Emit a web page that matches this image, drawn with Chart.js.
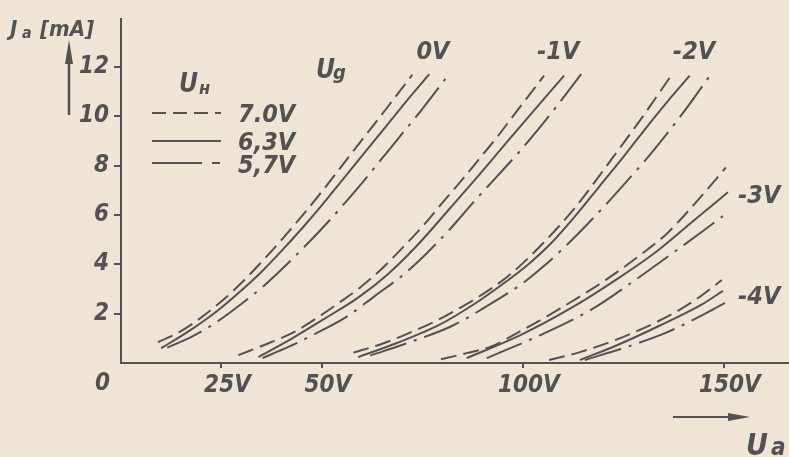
<!DOCTYPE html>
<html>
<head>
<meta charset="utf-8">
<script src="https://cdn.jsdelivr.net/npm/chart.js@4.4.0/dist/chart.umd.min.js"></script>
<style>
  html, body { margin: 0; padding: 0; background: #eee5d7; }
  #wrap { width: 789px; height: 457px; }
</style>
</head>
<body>
<div id="wrap"><canvas id="kennlinien" width="789" height="457"></canvas></div>
<script>
// Ia = f(Ua) for grid voltages 0..-4V, three heater voltages each
// points are [Ua (V), Ia (mA)]
const heaterLabels = ['7.0V', '6,3V', '5,7V'];
const gridLabels = ['0V', '-1V', '-2V', '-3V', '-4V'];
const xTickValues = [25, 50, 100, 150];
const yTickValues = [2, 4, 6, 8, 10, 12];

// Ug = 0V
const ug0_70 = [[9.2,0.84],[15,1.3],[20,1.85],[25,2.5],[30,3.25],[35,4.1],[40,5.0],[45,5.95],[50,6.95],[55,8.0],[60,9.05],[66,10.3],[72.5,11.68]];
const ug0_63 = [[10,0.6],[16.4,1.24],[24,2.12],[30,2.95],[35,3.7],[40,4.55],[45,5.45],[50,6.4],[55,7.4],[60,8.4],[66,9.6],[72,10.8],[76.7,11.7]];
const ug0_57 = [[11.5,0.62],[18,1.1],[24,1.68],[30,2.4],[35,3.05],[40,3.8],[45,4.6],[50,5.45],[55,6.35],[60,7.3],[65,8.3],[70,9.3],[75,10.3],[81.5,11.68]];
// Ug = -1V
const ug1_70 = [[29.2,0.32],[36.7,0.8],[42.9,1.24],[48.9,1.84],[54.6,2.48],[59.8,3.1],[65.1,3.85],[71.1,4.85],[75.6,5.64],[80.1,6.52],[85,7.45],[89.8,8.4],[93.8,9.2],[97.3,9.95],[105.25,11.64]];
const ug1_63 = [[34.2,0.24],[42.6,1.0],[50.7,1.8],[58.9,2.64],[66.4,3.6],[73.6,4.75],[82.3,6.35],[89,7.6],[96.8,9.1],[103.9,10.45],[110.25,11.64]];
const ug1_57 = [[35.2,0.2],[41.5,0.64],[49,1.24],[56.2,1.88],[63.2,2.72],[70.7,3.64],[76.4,4.5],[82,5.45],[87.6,6.5],[93.5,7.55],[99.6,8.65],[108.4,10.4],[114.5,11.7]];
// Ug = -2V
const ug2_70 = [[57.8,0.42],[65,0.78],[71.5,1.2],[80.1,1.85],[92,3.0],[97.3,3.65],[105,4.85],[113,6.3],[122.25,8.3],[129,9.8],[136.5,11.55]];
const ug2_63 = [[59,0.24],[68.5,0.8],[78.9,1.52],[88,2.4],[95,3.2],[101,3.95],[107,4.85],[113,5.95],[119,7.15],[125,8.35],[131,9.6],[136,10.6],[141.5,11.64]];
const ug2_57 = [[62,0.3],[72,0.85],[82.6,1.52],[91,2.3],[100,3.24],[105,3.9],[109.75,4.6],[115,5.45],[120.25,6.35],[125.5,7.3],[131,8.32],[136.6,9.45],[141.5,10.5],[146.5,11.64]];
// Ug = -3V
const ug3_70 = [[79.6,0.15],[86,0.4],[92.3,0.68],[97.5,1.12],[109.2,2.2],[120.9,3.4],[131,4.6],[135.8,5.24],[143,6.5],[150.5,7.92]];
const ug3_63 = [[86,0.2],[99.25,1.12],[111.7,2.2],[123.4,3.4],[133.5,4.55],[142,5.7],[151,6.92]];
const ug3_57 = [[91,0.2],[104.2,1.12],[117.4,2.2],[127.4,3.3],[138.5,4.6],[144.8,5.35],[149.75,5.95]];
// Ug = -4V
const ug4_70 = [[106.5,0.12],[114.2,0.44],[125.9,1.12],[137.3,2.0],[143.3,2.6],[149.5,3.36]];
const ug4_63 = [[114.2,0.12],[123.4,0.72],[134.1,1.52],[144,2.32],[149.75,2.92]];
const ug4_57 = [[115.4,0.12],[124.9,0.6],[135.8,1.24],[145.8,2.04],[150.25,2.44]];

const curveGroups = [
  [ug0_70, ug0_63, ug0_57],
  [ug1_70, ug1_63, ug1_57],
  [ug2_70, ug2_63, ug2_57],
  [ug3_70, ug3_63, ug3_57],
  [ug4_70, ug4_63, ug4_57]
];

const INK = '#525252';
const PAPER = '#eee5d7';
const FONT = "'Liberation Sans Narrow', 'DejaVu Sans Condensed', 'DejaVu Sans', sans-serif";
const dashStyles = [[16, 7], [], [38, 8, 3, 8]];

let datasets = [];
curveGroups.forEach((group, gi) => {
  group.forEach((pts, hi) => {
    datasets.push({
      label: gridLabels[gi] + ' / ' + heaterLabels[hi],
      data: pts.map(p => ({ x: p[0], y: p[1] })),
      borderColor: INK,
      borderWidth: 2,
      borderDash: dashStyles[hi],
      borderCapStyle: 'butt',
      pointRadius: 0,
      fill: false,
      cubicInterpolationMode: 'monotone'
    });
  });
});

function txt(ctx, s, x, y, size, align) {
  ctx.font = 'italic bold ' + size + 'px ' + FONT;
  ctx.textAlign = align || 'left';
  ctx.textBaseline = 'alphabetic';
  ctx.fillText(s, x, y);
}

// paper background
const paperPlugin = {
  id: 'paper',
  beforeDraw(chart) {
    const ctx = chart.ctx;
    ctx.save();
    ctx.fillStyle = PAPER;
    ctx.fillRect(0, 0, chart.width, chart.height);
    ctx.restore();
  }
};

// axis titles, arrows, legend, group labels
const decorPlugin = {
  id: 'decor',
  afterDraw(chart) {
    const ctx = chart.ctx;
    const xs = chart.scales.x, ys = chart.scales.y;
    ctx.save();
    ctx.fillStyle = INK;
    ctx.strokeStyle = INK;

    // y title  Ja [mA]
    txt(ctx, 'J', 10, 36, 22);
    txt(ctx, 'a', 22, 38, 16);
    txt(ctx, '[mA]', 40, 36, 22);
    // y arrow
    ctx.lineWidth = 2.5;
    ctx.beginPath(); ctx.moveTo(69, 115); ctx.lineTo(69, 58); ctx.stroke();
    ctx.beginPath(); ctx.moveTo(69, 40); ctx.lineTo(73, 64); ctx.lineTo(65, 64); ctx.closePath(); ctx.fill();

    // x title  Ua + arrow
    ctx.lineWidth = 2;
    ctx.beginPath(); ctx.moveTo(673, 417); ctx.lineTo(735, 417); ctx.stroke();
    ctx.beginPath(); ctx.moveTo(750, 417); ctx.lineTo(728, 413); ctx.lineTo(728, 421); ctx.closePath(); ctx.fill();
    txt(ctx, 'U', 746, 455, 30);
    txt(ctx, 'a', 771, 455, 24);

    // origin
    txt(ctx, '0', 95, 390, 24);

    // heater legend
    txt(ctx, 'U', 179, 92, 26);
    txt(ctx, 'н', 199, 94, 18);
    const legendY = [113, 141, 163];
    const legendDash = [[14, 7], [], [50, 10, 8, 10]];
    ctx.lineWidth = 2;
    legendY.forEach((ly, i) => {
      ctx.setLineDash(legendDash[i]);
      ctx.beginPath(); ctx.moveTo(152, ly); ctx.lineTo(221, ly); ctx.stroke();
    });
    ctx.setLineDash([]);
    txt(ctx, heaterLabels[0], 238, 122, 25);
    txt(ctx, heaterLabels[1], 238, 150, 25);
    txt(ctx, heaterLabels[2], 238, 173, 25);

    // grid voltage labels
    txt(ctx, 'U', 316, 78, 26);
    txt(ctx, 'g', 333, 79, 20);
    const labelAt = [[73.5, 12.3], [103.5, 12.3], [137.3, 12.3], [153.5, 6.5], [153.5, 2.4]];
    gridLabels.forEach((g, i) => {
      txt(ctx, g, xs.getPixelForValue(labelAt[i][0]), ys.getPixelForValue(labelAt[i][1]), 25);
    });
    ctx.restore();
  }
};

const tickFont = { family: FONT, size: 24, weight: 'bold', style: 'italic' };

const ctx = document.getElementById('kennlinien').getContext('2d');
const chart = new Chart(ctx, {
  type: 'line',
  data: { datasets: datasets },
  options: {
    responsive: false,
    devicePixelRatio: 1,
    animation: false,
    layout: { padding: { top: 15, right: 0, left: 0, bottom: 0 } },
    plugins: { legend: { display: false }, tooltip: { enabled: false } },
    scales: {
      x: {
        type: 'linear',
        min: 0,
        max: 166.2,
        afterFit: s => { s.height = 94; },
        afterBuildTicks: s => { s.ticks = xTickValues.map(v => ({ value: v })); },
        grid: { display: true, drawOnChartArea: false, drawTicks: true, tickLength: 5, color: INK, lineWidth: 2 },
        border: { display: true, color: INK, width: 2 },
        ticks: {
          color: INK, font: tickFont, padding: 3, maxRotation: 0, autoSkip: false,
          labelOffset: 6,
          callback: v => v + 'V'
        }
      },
      y: {
        type: 'linear',
        min: 0,
        max: 13.92,
        afterFit: s => { s.width = 121; },
        afterBuildTicks: s => { s.ticks = yTickValues.map(v => ({ value: v })); },
        grid: { display: true, drawOnChartArea: false, drawTicks: true, tickLength: 7, color: INK, lineWidth: 2 },
        border: { display: true, color: INK, width: 2 },
        ticks: { color: INK, font: tickFont, padding: 5, autoSkip: false }
      }
    }
  },
  plugins: [paperPlugin, decorPlugin]
});
</script>
</body>
</html>
